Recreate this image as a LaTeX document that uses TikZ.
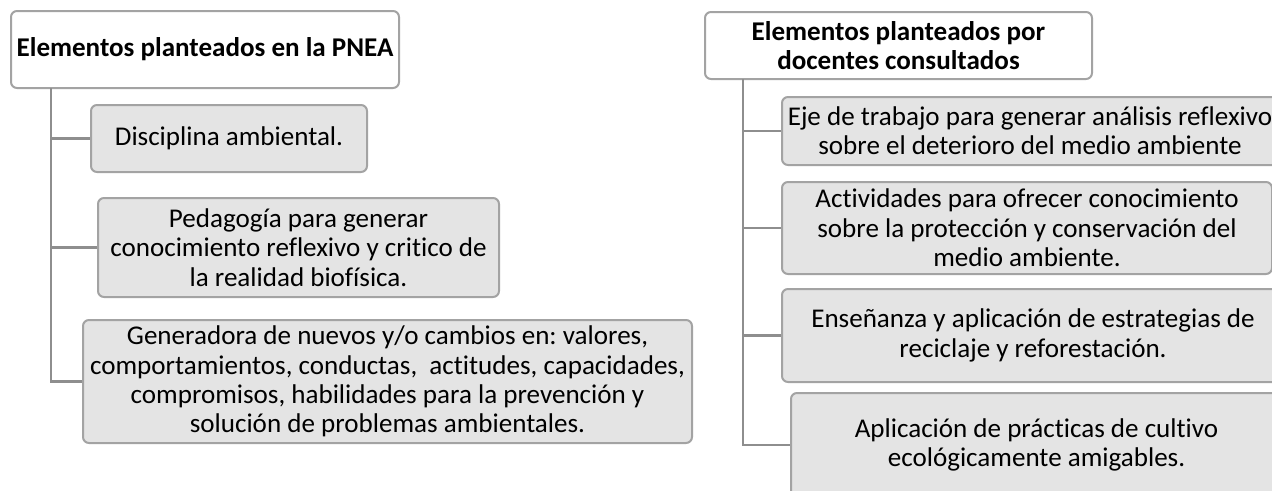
\documentclass[tikz,border=0pt]{standalone}
\usepackage{fontspec}
\setmainfont{Carlito}[Ligatures=NoCommon]
\frenchspacing
\definecolor{boxfill}{HTML}{E4E4E4}
\definecolor{boxline}{HTML}{A3A3A3}
\definecolor{linkline}{HTML}{8E8E8E}
\begin{document}
\begin{tikzpicture}[x=0.75pt, y=-0.75pt,
	rootbox/.style={draw=boxline, line width=1.5pt, fill=white, rounded corners=4.5pt,
		align=center, inner sep=0pt, font=\fontsize{20.3}{22}\selectfont\bfseries},
	itembox/.style={draw=boxline, line width=1.5pt, fill=boxfill, rounded corners=4.5pt,
		align=center, inner sep=0pt, font=\fontsize{20.3}{22}\selectfont},
	link/.style={draw=linkline, line width=1.6pt}]
	\useasboundingbox (0,0) rectangle (1272,490);
	\clip (0,0) rectangle (1272,490);

	% Left tree: PNEA
	\node[rootbox, minimum width=291pt, minimum height=57.75pt] (lroot) at (205,49.5)
		{Elementos planteados en la PNEA};
	\node[itembox, minimum width=207pt, minimum height=50.25pt] (l1) at (229,138.5)
		{Disciplina ambiental.};
	\node[itembox, minimum width=300.75pt, minimum height=74.25pt] (l2) at (298.5,247.5)
		{Pedagogía para generar\\conocimiento reflexivo y critico de\\la realidad biofísica.};
	\node[itembox, minimum width=456.75pt, minimum height=92.25pt] (l3) at (387.5,381.5)
		{Generadora de nuevos y/o cambios en: valores,\\comportamientos, conductas,~ actitudes, capacidades,\\compromisos, habilidades para la prevención y\\solución de problemas ambientales.};

	\coordinate (ltrunk) at (51,88);
	\draw[link] (ltrunk) |- (l3.west);
	\draw[link] (ltrunk |- l1.west) -- (l1.west);
	\draw[link] (ltrunk |- l2.west) -- (l2.west);

	% Right tree: docentes
	\node[rootbox, minimum width=290.25pt, minimum height=50.25pt] (rroot) at (898.5,45.5)
		{Elementos planteados por\\docentes consultados};
	\node[itembox, minimum width=372pt, minimum height=51pt] (r1) at (1030,131)
		{Eje de trabajo para generar análisis reflexivo\\sobre el deterioro del medio ambiente};
	\node[itembox, minimum width=367.5pt, minimum height=69pt] (r2) at (1027,228)
		{Actividades para ofrecer conocimiento\\sobre la protección y conservación del\\medio ambiente.};
	\node[itembox, minimum width=376.5pt, minimum height=69.75pt] (r3) at (1033,335.5)
		{Enseñanza y aplicación de estrategias de\\reciclaje y reforestación.};
	\node[itembox, minimum width=368.25pt, minimum height=78pt] (r4) at (1036.5,445)
		{Aplicación de prácticas de cultivo\\ecológicamente amigables.};

	\coordinate (rtrunk) at (743,79);
	\draw[link] (rtrunk) |- (r4.west);
	\draw[link] (rtrunk |- r1.west) -- (r1.west);
	\draw[link] (rtrunk |- r2.west) -- (r2.west);
	\draw[link] (rtrunk |- r3.west) -- (r3.west);
\end{tikzpicture}
\end{document}
